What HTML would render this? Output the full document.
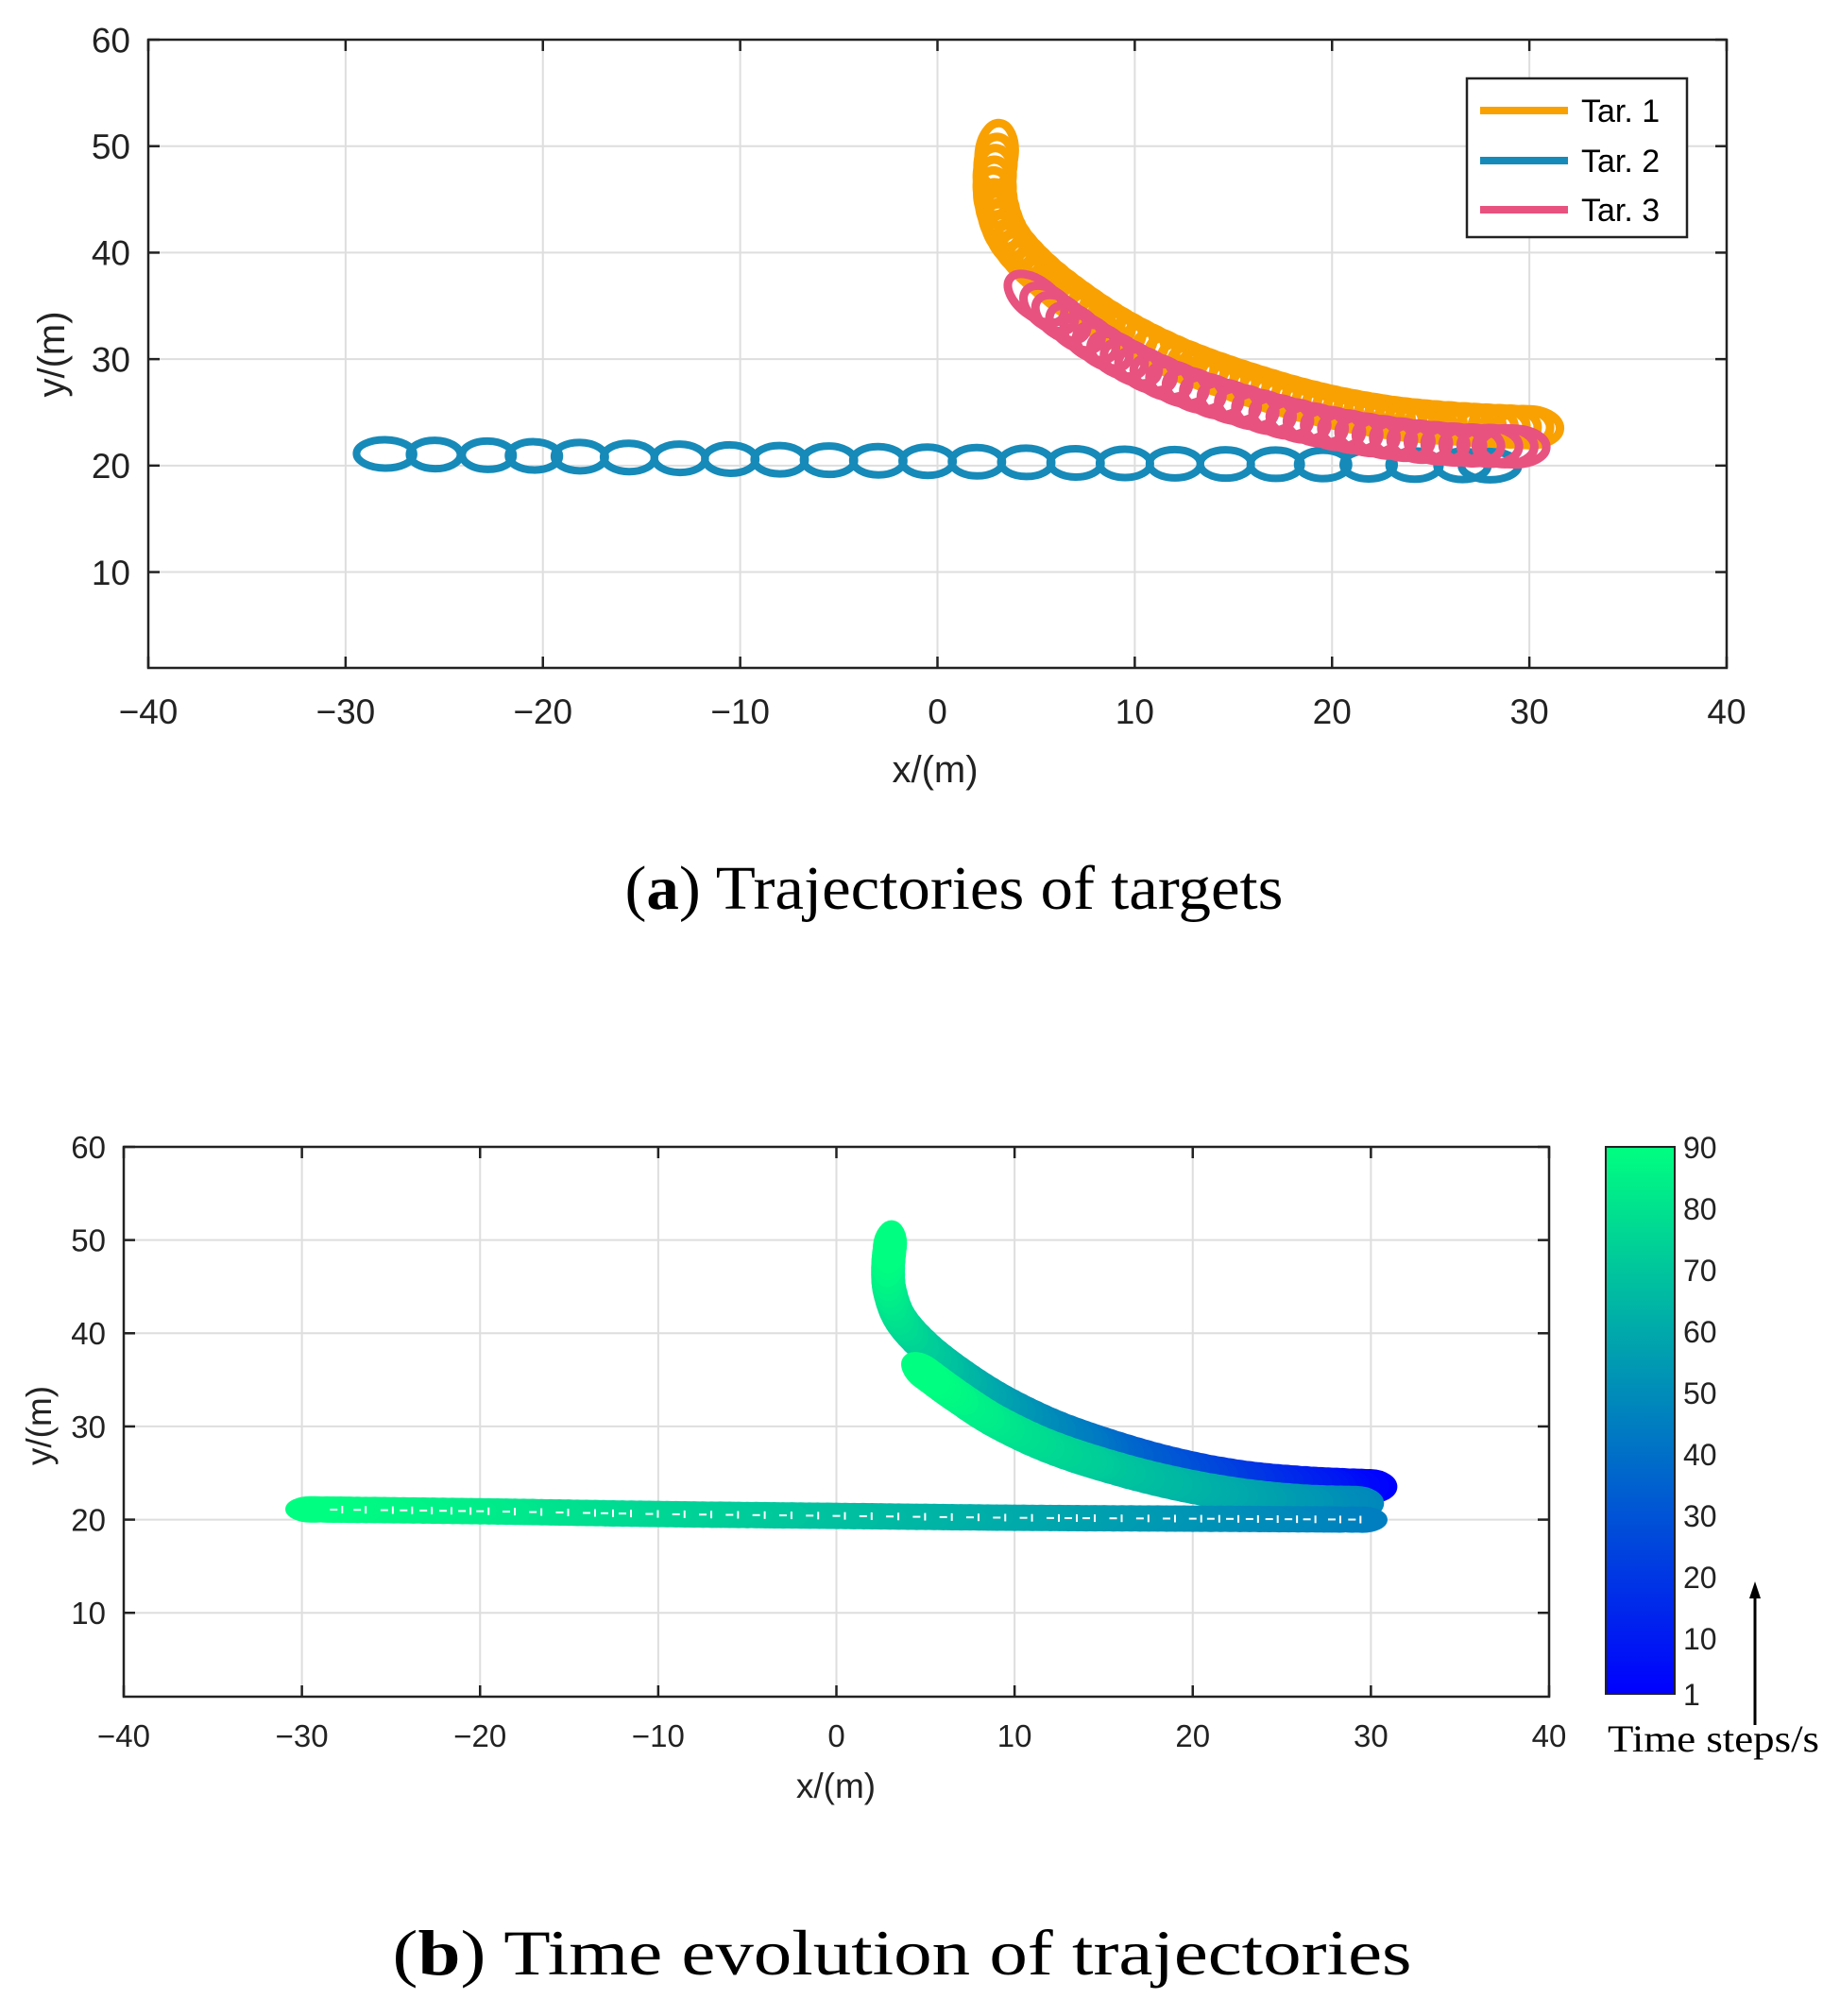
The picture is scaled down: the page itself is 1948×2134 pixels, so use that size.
<!DOCTYPE html>
<html><head><meta charset="utf-8">
<style>
html,body{margin:0;padding:0;background:#fff;}
svg{display:block;}
</style></head>
<body>
<svg id="s" width="1948" height="2134" viewBox="0 0 1948 2134" xmlns="http://www.w3.org/2000/svg" font-family="Liberation Sans, sans-serif">
<defs>
<linearGradient id="cb" x1="0" y1="1" x2="0" y2="0">
<stop offset="0" stop-color="#0000ff"/>
<stop offset="1" stop-color="#00ff80"/>
</linearGradient>
</defs>
<g id="g"></g>
<text x="1010" y="962" font-family="Liberation Serif, serif" font-size="66" text-anchor="middle" textLength="697" lengthAdjust="spacingAndGlyphs">(<tspan font-weight="bold">a</tspan>) Trajectories of targets</text>
<text x="955" y="2090" font-family="Liberation Serif, serif" font-size="68" text-anchor="middle" textLength="1079" lengthAdjust="spacingAndGlyphs">(<tspan font-weight="bold">b</tspan>) Time evolution of trajectories</text>
<rect x="1700" y="1214" width="73" height="579" fill="url(#cb)" stroke="#222" stroke-width="2"/>
<g font-size="32" fill="#222">
<text x="1782" y="1226">90</text>
<text x="1782" y="1291">80</text>
<text x="1782" y="1356">70</text>
<text x="1782" y="1421">60</text>
<text x="1782" y="1486">50</text>
<text x="1782" y="1551">40</text>
<text x="1782" y="1616">30</text>
<text x="1782" y="1681">20</text>
<text x="1782" y="1746">10</text>
<text x="1782" y="1805">1</text>
</g>
<line x1="1858" y1="1826" x2="1858" y2="1690" stroke="#000" stroke-width="3"/>
<polygon points="1858,1674 1852,1692 1864,1692" fill="#000"/>
<text x="1702" y="1854" font-family="Liberation Serif, serif" font-size="40" textLength="224" lengthAdjust="spacingAndGlyphs">Time steps/s</text>
</svg>
<script>
(function(){
var NS="http://www.w3.org/2000/svg";
var G=document.getElementById("g");
function el(n,a,p){var e=document.createElementNS(NS,n);for(var k in a)e.setAttribute(k,a[k]);(p||G).appendChild(e);return e;}
function tx(x,y,s,a,fs,extra){var e=el("text",Object.assign({x:x,y:y,"font-size":fs,fill:"#222","text-anchor":a},extra||{}));e.textContent=s;return e;}

function axes(P){
  var mx=function(v){return P.L+(v+40)/80*(P.R-P.L);};
  var my=function(v){return P.T+(60-v)/59*(P.B-P.T);};
  P.mx=mx;P.my=my;
  el("rect",{x:P.L,y:P.T,width:P.R-P.L,height:P.B-P.T,fill:"#fff"});
  for(var v=-30;v<=30;v+=10){el("line",{x1:mx(v),y1:P.T,x2:mx(v),y2:P.B,stroke:"#dedede","stroke-width":2});}
  for(var w=10;w<=50;w+=10){el("line",{x1:P.L,y1:my(w),x2:P.R,y2:my(w),stroke:"#dedede","stroke-width":2});}
}
function frame(P){
  var mx=P.mx,my=P.my,tl=12;
  for(var v=-40;v<=40;v+=10){
    el("line",{x1:mx(v),y1:P.B,x2:mx(v),y2:P.B-tl,stroke:"#222","stroke-width":2.5});
    el("line",{x1:mx(v),y1:P.T,x2:mx(v),y2:P.T+tl,stroke:"#222","stroke-width":2.5});
    tx(mx(v),P.xl,(v<0?"\u2212"+(-v):""+v),"middle",P.fs);
  }
  for(var w=10;w<=60;w+=10){
    el("line",{x1:P.L,y1:my(w),x2:P.L+tl,y2:my(w),stroke:"#222","stroke-width":2.5});
    el("line",{x1:P.R,y1:my(w),x2:P.R-tl,y2:my(w),stroke:"#222","stroke-width":2.5});
    tx(P.yl,my(w)+P.fs*0.36,""+w,"end",P.fs);
  }
  el("rect",{x:P.L,y:P.T,width:P.R-P.L,height:P.B-P.T,fill:"none",stroke:"#222","stroke-width":2.5});
}
function sample(P,pts,step){
  var px=pts.map(function(p){return [P.mx(p[0]),P.my(p[1])];});
  var dense=[];
  for(var i=0;i<px.length-1;i++){
    var p0=px[Math.max(0,i-1)],p1=px[i],p2=px[i+1],p3=px[Math.min(px.length-1,i+2)];
    for(var t=0;t<1;t+=0.05){
      var t2=t*t,t3=t2*t;
      dense.push([0.5*((2*p1[0])+(-p0[0]+p2[0])*t+(2*p0[0]-5*p1[0]+4*p2[0]-p3[0])*t2+(-p0[0]+3*p1[0]-3*p2[0]+p3[0])*t3),
                  0.5*((2*p1[1])+(-p0[1]+p2[1])*t+(2*p0[1]-5*p1[1]+4*p2[1]-p3[1])*t2+(-p0[1]+3*p1[1]-3*p2[1]+p3[1])*t3)]);
    }
  }
  dense.push(px[px.length-1]);
  var out=[],acc=0;out.push(dense[0]);
  for(var j=1;j<dense.length;j++){
    var dx=dense[j][0]-dense[j-1][0],dy=dense[j][1]-dense[j-1][1];acc+=Math.sqrt(dx*dx+dy*dy);
    if(acc>=step){out.push(dense[j]);acc=0;}
  }
  if(acc>step*0.3)out.push(dense[dense.length-1]);
  return out.map(function(p,k){
    var a=out[Math.max(0,k-1)],b=out[Math.min(out.length-1,k+1)];
    return [p[0],p[1],Math.atan2(b[1]-a[1],b[0]-a[0])*180/Math.PI];
  });
}
var T1=[[3.0,49.3],[2.9,47],[3.0,44.5],[3.6,41.5],[5,38.5],[7,35.5],[9.5,32.5],[12.5,29.8],[16,27.5],[19.5,25.7],[23,24.5],[26.5,23.9],[30,23.6]];
var T2=[[-28,21.1],[-20,20.9],[-10,20.6],[0,20.4],[10,20.2],[20,20.1],[28,20.0]];
var T2b=[[-29.5,21.1],[-20,20.9],[-10,20.6],[0,20.4],[10,20.2],[20,20.1],[29.5,20.0]];
var T3=[[5.0,35.7],[6.8,33.2],[9,30.5],[12,27.8],[15.5,25.6],[19,23.9],[22.5,22.7],[26,22],[29.2,21.8]];

var A={L:157,R:1828,T:42,B:707,fs:37,xl:766,yl:138};
axes(A);
function drawA(pts,col,step,rx,ry,sw){
  var s=sample(A,pts,step);
  s.forEach(function(p,k){
    var e=(k==0||k==s.length-1)?1.12:1;
    el("ellipse",{cx:p[0],cy:p[1],rx:rx*e,ry:ry,fill:"none",stroke:col,"stroke-width":sw,transform:"rotate("+p[2]+" "+p[0]+" "+p[1]+")"});
  });
}
drawA(T1,"#f9a102",11,29,19,9);
drawA(T2,"#168ab9",48,27,15,8);
drawA(T3,"#e8527f",16,31,19,9);
frame(A);
el("rect",{x:1553,y:83,width:233,height:168,fill:"#fff",stroke:"#222","stroke-width":2.5});
[["#f9a102","Tar. 1",117],["#168ab9","Tar. 2",170],["#e8527f","Tar. 3",222]].forEach(function(r){
  el("line",{x1:1567,y1:r[2],x2:1660,y2:r[2],stroke:r[0],"stroke-width":8});
  tx(1674,r[2]+12,r[1],"start",34,{fill:"#000"});
});
tx(990,828,"x/(m)","middle",40,{fill:"#222"});
tx(0,0,"y/(m)","middle",40,{transform:"translate(68,375) rotate(-90)"});

var B={L:131,R:1640,T:1214,B:1796,fs:33,xl:1849,yl:112};
axes(B);
function cmap(t){var f=(t-1)/89;return "rgb(0,"+Math.round(255*f)+","+Math.round(255-127*f)+")";}
function drawB(pts,t0,t1,step,rx,ry){
  var s=sample(B,pts,step);
  var n=s.length;
  for(var k=0;k<n;k++){
    var p=s[k];var t=t0+(t1-t0)*k/(n-1);
    var c=cmap(t);
    el("ellipse",{cx:p[0],cy:p[1],rx:rx,ry:ry,fill:c,stroke:c,"stroke-width":4,transform:"rotate("+p[2]+" "+p[0]+" "+p[1]+")"});
  }
}
drawB(T1.slice().reverse(),1,90,7,26,16);
drawB(T3.slice().reverse(),48,90,7,27,16);
drawB(T2b.slice().reverse(),45,90,7,25,12);
var s2=sample(B,T2b,19);
s2.forEach(function(p,k){ if(k>0&&k<s2.length-1){
  el("line",{x1:p[0]-4,y1:p[1],x2:p[0]+4,y2:p[1],stroke:"#fff","stroke-width":2});
  el("line",{x1:p[0]+9,y1:p[1]-4,x2:p[0]+9,y2:p[1]+4,stroke:"#fff","stroke-width":2});
}});
frame(B);
tx(885,1903,"x/(m)","middle",37,{fill:"#222"});
tx(0,0,"y/(m)","middle",37,{transform:"translate(54,1509) rotate(-90)"});
})();
</script>
</body></html>
